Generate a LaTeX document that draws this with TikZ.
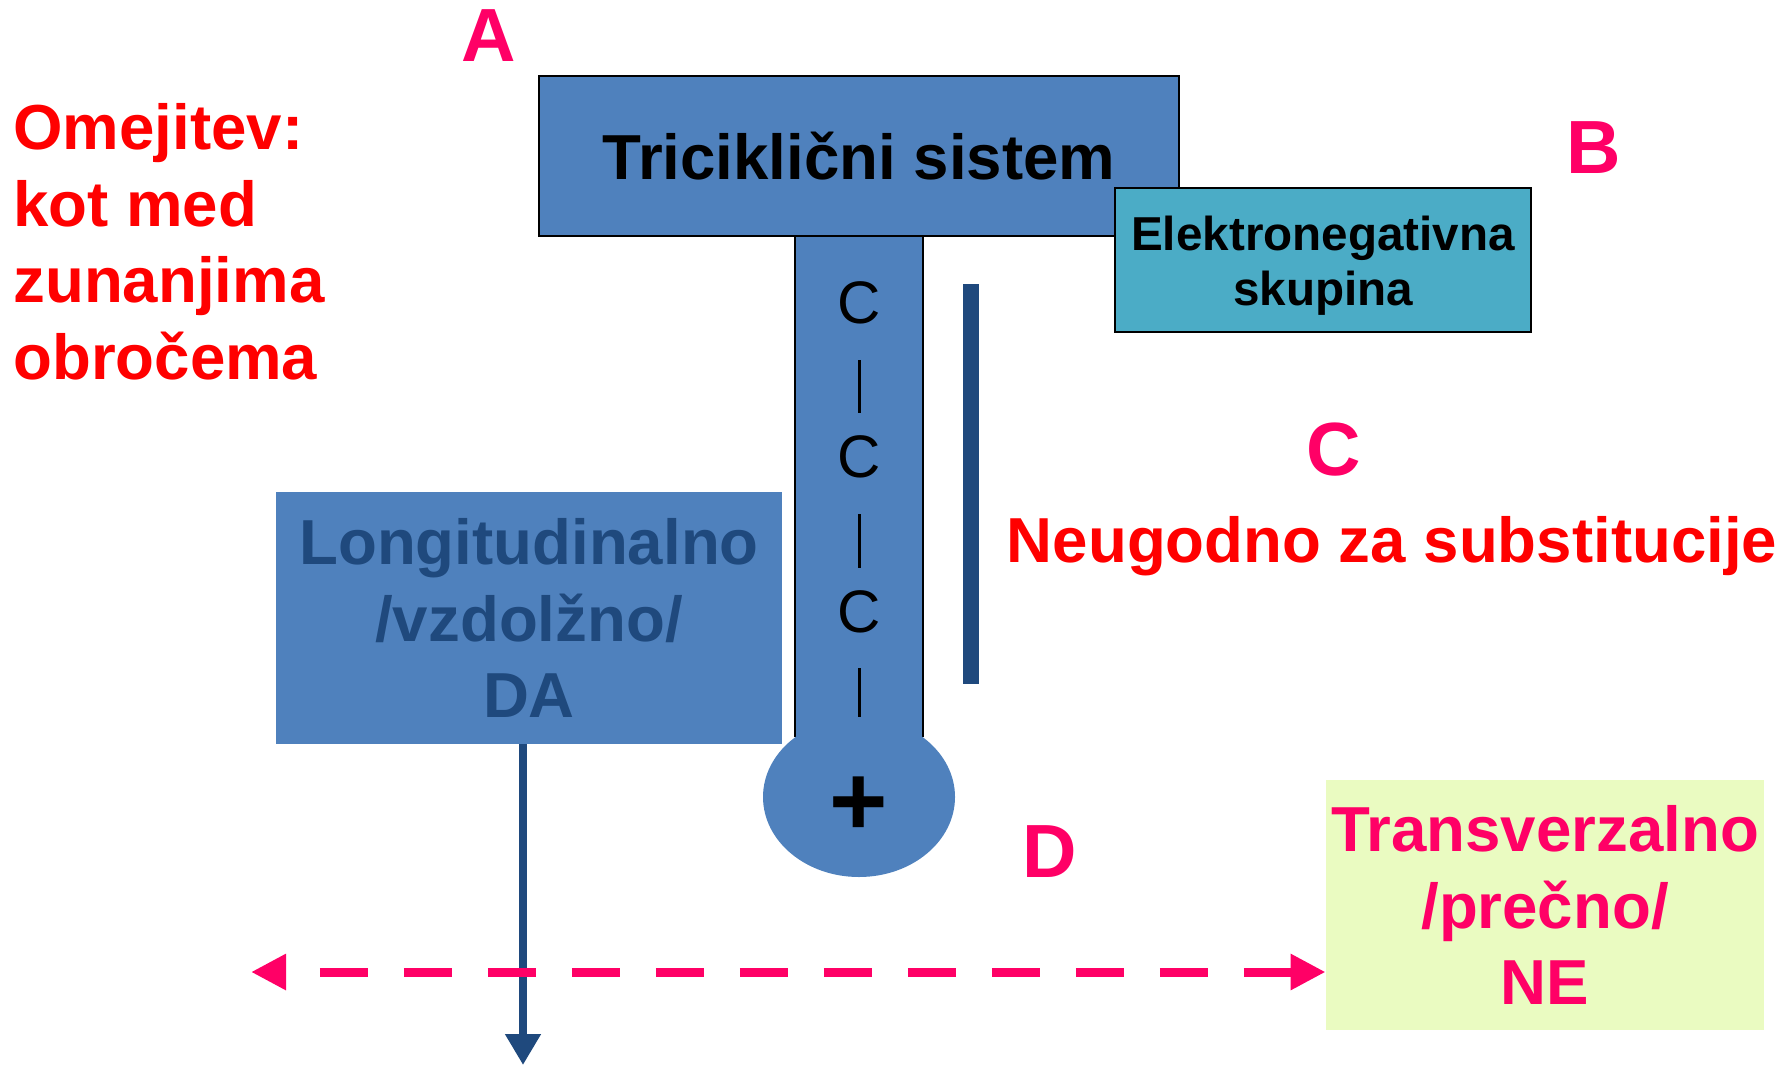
\documentclass[tikz,border=0pt]{standalone}
\usepackage{fontspec}
\setmainfont{Liberation Sans}
\usetikzlibrary{arrows.meta,shapes.geometric,calc}
\definecolor{boxblue}{HTML}{4F81BD}
\definecolor{darkblue}{HTML}{1F497D}
\definecolor{tealbox}{HTML}{4BACC6}
\definecolor{pinkc}{HTML}{FF0066}
\definecolor{redc}{HTML}{FF0000}
\definecolor{lightg}{HTML}{EAFBC1}
\begin{document}
\begin{tikzpicture}[x=0.5pt,y=-0.5pt,
  bigtxt/.style={font=\fontsize{31.8pt}{38.35pt}\selectfont\bfseries},
  midtxt/.style={font=\fontsize{23.8pt}{27.5pt}\selectfont\bfseries},
  letter/.style={font=\fontsize{37.7pt}{40pt}\selectfont\bfseries, text=pinkc, inner sep=0pt},
  atom/.style={font=\fontsize{30pt}{32pt}\selectfont, inner sep=0pt},
  bond/.style={line width=1.5pt, black},
  box/.style={rectangle, inner sep=0pt, align=center}]
\useasboundingbox (0,0) rectangle (1791,1065);

% stem and bulb
\node[box, fill=boxblue, minimum width=64pt, minimum height=250.5pt] (stem) at (859,486.5) {};
\draw[line width=1pt] (stem.north west) -- (stem.south west);
\draw[line width=1pt] (stem.north east) -- (stem.south east);
\node[ellipse, fill=boxblue, inner sep=0pt, minimum width=96pt, minimum height=80pt,
      font=\fontsize{50pt}{54pt}\selectfont\bfseries] (bulb) at (859,797) {\raisebox{-19pt}[0pt][0pt]{+}};

% tricyclic system
\node[box, fill=boxblue, draw=black, line width=1pt, minimum width=320pt, minimum height=80pt, bigtxt] (tri) at (859,156) {Triciklični sistem};

% electronegative group
\node[box, fill=tealbox, draw=black, line width=1pt, minimum width=208pt, minimum height=72pt, midtxt] (el) at (1323,260) {\rule{0pt}{23.4pt}Elektronegativna\\skupina};

% atoms in chain
\node[atom] (c1) at (859,303) {C};
\node[atom] (c2) at (859,457) {C};
\node[atom] (c3) at (859,612) {C};
\draw[bond] ($(c1)+(0,57)$) -- ($(c1)+(0,110)$);
\draw[bond] ($(c2)+(0,57)$) -- ($(c2)+(0,111)$);
\draw[bond] ($(c3)+(0,56)$) -- ($(c3)+(0,105)$);

% dark bar
\node[box, fill=darkblue, minimum width=8pt, minimum height=200pt] (bar) at (971,484) {};

% longitudinal box
\node[box, fill=boxblue, minimum width=253pt, minimum height=126pt, bigtxt, text=darkblue] (long) at (529,618) {Longitudinalno\\/vzdolžno/\\DA};

% transversal box
\node[box, fill=lightg, minimum width=219pt, minimum height=125pt, bigtxt, text=pinkc] (trans) at (1545,905) {Transverzalno\\/prečno/\\NE};

% arrows
\coordinate (downend) at (523,1065);
\draw[darkblue, line width=4pt, -{Triangle[length=15.5pt,width=17pt]}] (long.south -| downend) -- (downend);
\coordinate (leftend) at (251,972);
\draw[pinkc, line width=4.5pt, dash pattern=on 24pt off 18pt, dash phase=24pt,
      {Triangle[length=17.5pt,width=17pt]}-{Triangle[length=17.5pt,width=17pt]}]
      (leftend) -- (trans.west |- leftend);

% texts
\node[bigtxt, text=redc, align=left, anchor=north west, inner sep=0pt] (omej) at (13,103) {Omejitev:\\kot med\\zunanjima\\obročema};
\node[bigtxt, text=redc, anchor=base, inner sep=0pt] (neug) at (1392,562) {Neugodno za substitucije};

% letters
\node[letter] (la) at (489,36) {A};
\node[letter] (lb) at (1594,148) {B};
\node[letter] (lc) at (1334,450) {C};
\node[letter] (ld) at (1050,852) {D};
\end{tikzpicture}
\end{document}
